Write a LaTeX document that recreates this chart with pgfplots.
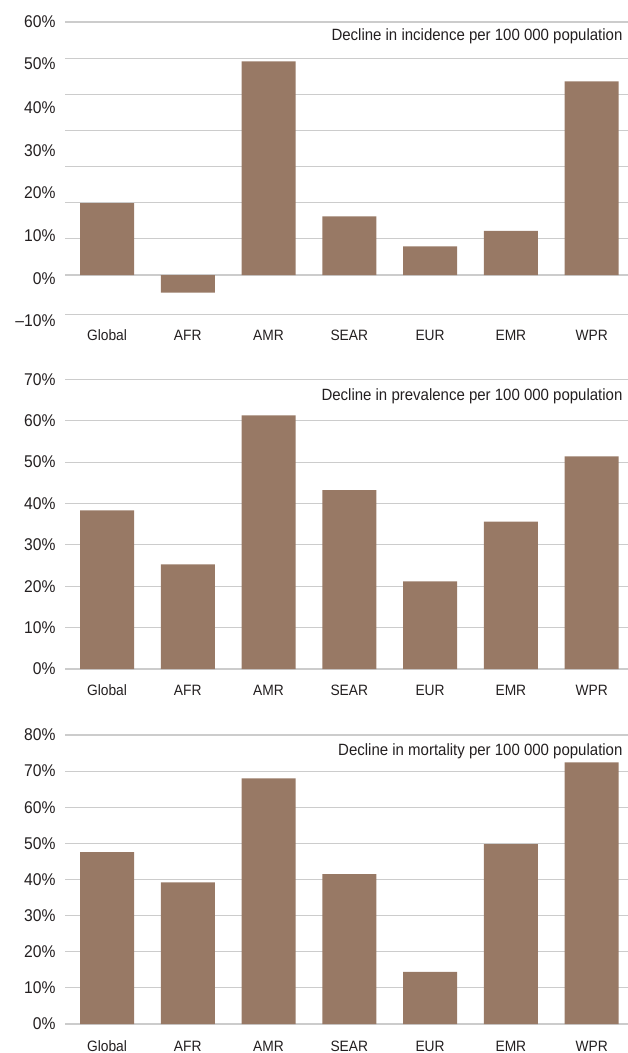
\documentclass[border=0pt]{standalone}
\usepackage{fontspec}
\setmainfont{Liberation Sans}[FakeStretch=0.92]
\usepackage{pgfplots}
\pgfplotsset{compat=1.18}
\usepackage{pgfplotstable}

\definecolor{barbrown}{RGB}{152,121,101}
\definecolor{gridgray}{RGB}{204,204,204}
\definecolor{txt}{RGB}{35,31,32}

% decline in %, one table per panel
\pgfplotstableread{
x y
0 19.9
1 -4.9
2 59.1
3 16.2
4 7.9
5 12.2
6 53.6
}\incidence
\pgfplotstableread{
x y
0 38.3
1 25.3
2 61.3
3 43.2
4 21.2
5 35.6
6 51.4
}\prevalence
\pgfplotstableread{
x y
0 47.6
1 39.2
2 68.0
3 41.5
4 14.4
5 49.8
6 72.4
}\mortality

\pgfplotsset{
  panel/.style={
    scale only axis,
    width=563bp,
    xmin=-0.52, xmax=6.45,
    xtick={0,...,6},
    xticklabels={Global,AFR,AMR,SEAR,EUR,EMR,WPR},
    axis line style={draw=none},
    major tick length=0pt,
    ymajorgrids=false,
    extra y tick labels={},
    extra y tick style={grid=major, major tick length=0pt},
    major grid style={draw=gridgray, line width=1.1bp},
    xticklabel style={font=\fontsize{15bp}{18bp}\selectfont, text=txt, anchor=base},
    yticklabel style={font=\fontsize{17bp}{20bp}\selectfont, text=txt, anchor=east, xshift=-6bp},
    ybar, bar width=54bp,
    clip=false,
  },
}
\tikzset{paneltitle/.style={anchor=east, font=\fontsize{16.3bp}{19bp}\selectfont, text=txt}}

\begin{document}
\begin{tikzpicture}
\path[use as bounding box] (0,0) rectangle (628bp,-1053bp);

% incidence
\begin{axis}[panel, at={(65bp,-22bp)}, anchor=north west,
  height=301.8bp, ymin=-13.5, ymax=70,
  ytick={-12.7,-1.1,10.8,22.7,34.3,46.4,58.6,70},
  yticklabels={--10\%,0\%,10\%,20\%,30\%,40\%,50\%,60\%},
  extra y ticks={-11,0,10,20,30,40,50,60,70},
  xticklabel style={yshift=-17bp}]
\addplot[fill=barbrown, draw=none] table[x=x, y=y] {\incidence};
\end{axis}
\node[paneltitle] at (626bp,-36bp) {Decline in incidence per 100 000 population};

% prevalence
\begin{axis}[panel, at={(65bp,-379.3bp)}, anchor=north west,
  height=289.7bp, ymin=0, ymax=70,
  ytick={0,10,...,70},
  yticklabels={0\%,10\%,20\%,30\%,40\%,50\%,60\%,70\%},
  extra y ticks={0,10,...,70},
  xticklabel style={yshift=-26bp}]
\addplot[fill=barbrown, draw=none] table[x=x, y=y] {\prevalence};
\end{axis}
\node[paneltitle] at (626bp,-396bp) {Decline in prevalence per 100 000 population};

% mortality
\begin{axis}[panel, at={(65bp,-735bp)}, anchor=north west,
  height=289bp, ymin=0, ymax=80,
  ytick={0,10,...,80},
  yticklabels={0\%,10\%,20\%,30\%,40\%,50\%,60\%,70\%,80\%},
  extra y ticks={0,10,...,80},
  xticklabel style={yshift=-27bp}]
\addplot[fill=barbrown, draw=none] table[x=x, y=y] {\mortality};
\end{axis}
\node[paneltitle] at (626bp,-751bp) {Decline in mortality per 100 000 population};
\end{tikzpicture}
\end{document}
